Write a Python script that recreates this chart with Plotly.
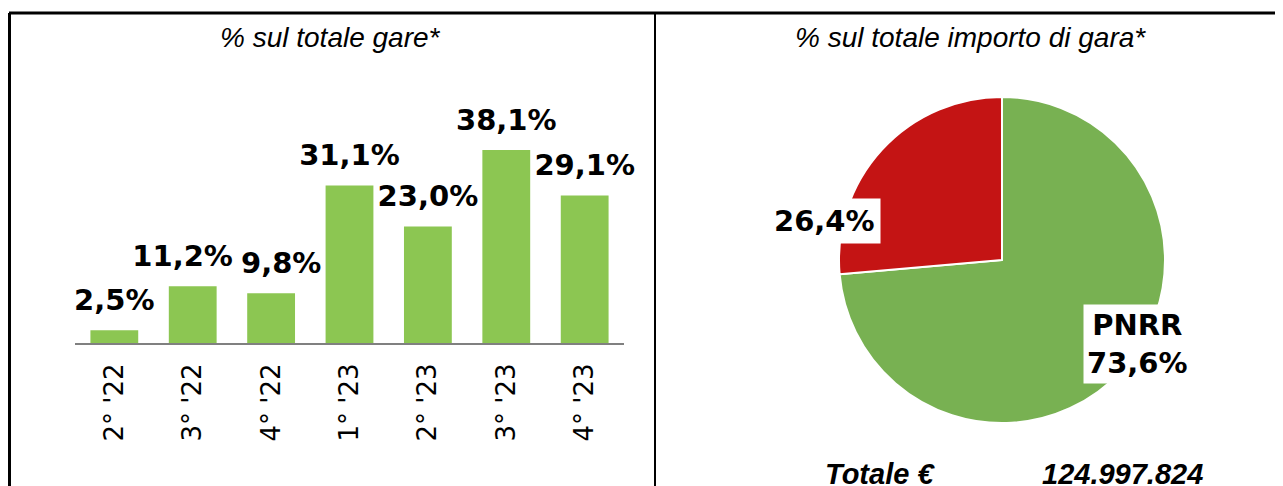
import plotly.graph_objects as go

# ---- data ----
quarters = ["2° '22", "3° '22", "4° '22", "1° '23", "2° '23", "3° '23", "4° '23"]
share_gare = [2.5, 11.2, 9.8, 31.1, 23.0, 38.1, 29.1]
pie_labels = ["PNRR", ""]
pie_values = [73.6, 26.4]
title_left = "% sul totale gare*"
title_right = "% sul totale importo di gara*"
totale_label = "Totale €"
totale_value = "124.997.824"

# label nudges (number of padding spaces: + pushes right, - pushes left)
label_nudge = [0, -2, 2, 0, 0, 0, 0]

OFF = 8  # page body margin
W, H = 1283 - OFF, 486 - OFF


def px(x):
    return (x - OFF) / W


def py(y):
    return 1 - (y - OFF) / H


def fmt(v):
    return f"{v:.1f}".replace(".", ",") + "%"


def nudged(t, n):
    pad = "\u00a0" * abs(n)
    return pad + t if n > 0 else t + pad


fig = go.Figure()

fig.add_trace(go.Bar(
    x=quarters, y=share_gare,
    marker=dict(color="#8CC652", line=dict(width=0)),
    showlegend=False,
    hoverinfo="skip",
))

fig.add_trace(go.Scatter(
    x=quarters, y=share_gare,
    mode="markers+text",
    marker=dict(size=19, color="rgba(0,0,0,0)"),
    text=[nudged(fmt(v), n) for v, n in zip(share_gare, label_nudge)],
    textposition="top center",
    textfont=dict(family="DejaVu Sans", size=29, color="black", weight="bold"),
    cliponaxis=False,
    showlegend=False,
    hoverinfo="skip",
))

fig.add_trace(go.Pie(
    labels=["PNRR", "Altro"], values=pie_values,
    sort=False, direction="clockwise", rotation=0,
    marker=dict(colors=["#78B152", "#C41414"], line=dict(color="white", width=2)),
    textinfo="none",
    domain=dict(x=[px(838), px(1166)], y=[py(423), py(97)]),
    showlegend=False,
    hoverinfo="skip",
))

fig.update_layout(
    width=W, height=H,
    margin=dict(l=0, r=0, t=0, b=0),
    paper_bgcolor="white", plot_bgcolor="white",
    bargap=0.39,
    xaxis=dict(
        domain=[px(75), px(624)],
        showline=True, linecolor="#808080", linewidth=2,
        showgrid=False, zeroline=False,
        tickangle=-90,
        tickfont=dict(family="DejaVu Sans", size=26, color="black"),
        ticks="", ticklabelstandoff=8,
    ),
    yaxis=dict(
        domain=[py(343), py(115)],
        range=[0, 45],
        visible=False,
    ),
    font=dict(family="DejaVu Sans"),
)

# borders
line = dict(color="black", width=3)
fig.add_shape(type="line", xref="paper", yref="paper", x0=px(9), x1=1, y0=py(13), y1=py(13), line=line)
fig.add_shape(type="line", xref="paper", yref="paper", x0=px(9.5), x1=px(9.5), y0=py(13), y1=0, line=line)
fig.add_shape(type="line", xref="paper", yref="paper", x0=px(655), x1=px(655), y0=py(13), y1=0, line=dict(color="black", width=2))

# titles
tfont = dict(family="Liberation Sans", size=28, color="black", style="italic")
fig.add_annotation(xref="paper", yref="paper", x=px(330), y=py(37), text=title_left,
                   showarrow=False, font=tfont, xanchor="center", yanchor="middle")
fig.add_annotation(xref="paper", yref="paper", x=px(970), y=py(37), text=title_right,
                   showarrow=False, font=tfont, xanchor="center", yanchor="middle")

# pie labels
lfont = dict(family="DejaVu Sans", size=29, color="black", weight="bold")
fig.add_annotation(xref="paper", yref="paper", x=px(824), y=py(221), text=fmt(pie_values[1]),
                   showarrow=False, font=lfont, bgcolor="white", borderpad=5,
                   xanchor="center", yanchor="middle")
fig.add_annotation(xref="paper", yref="paper", x=px(1137), y=py(344),
                   text=pie_labels[0] + "<br>" + fmt(pie_values[0]),
                   showarrow=False, font=lfont, bgcolor="white", borderpad=3,
                   xanchor="center", yanchor="middle")

# total
bfont = dict(family="Liberation Sans", size=29, color="black", style="italic", weight="bold")
fig.add_annotation(xref="paper", yref="paper", x=px(880), y=py(474), text=totale_label,
                   showarrow=False, font=bfont, xanchor="center", yanchor="middle")
fig.add_annotation(xref="paper", yref="paper", x=px(1122), y=py(474), text=totale_value,
                   showarrow=False, font=bfont, xanchor="center", yanchor="middle")

fig.write_html("out.html")
